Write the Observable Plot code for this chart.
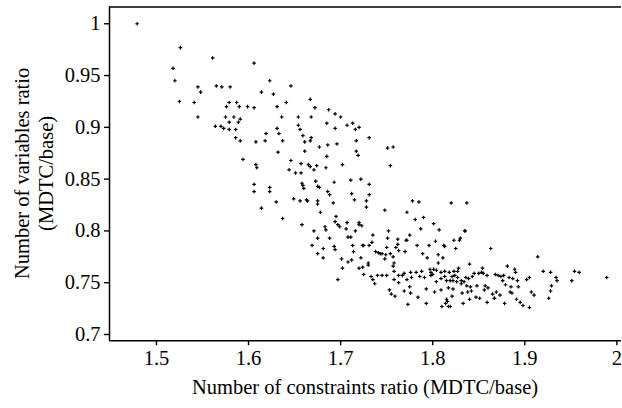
<!DOCTYPE html>
<html>
<head>
<meta charset="utf-8">
<script src="https://cdn.jsdelivr.net/npm/d3@7"></script>
<script src="https://cdn.jsdelivr.net/npm/@observablehq/plot@0.6"></script>
<style>
  html, body { margin: 0; padding: 0; background: #fff; }
  #chart { width: 622px; height: 408px; }
</style>
</head>
<body>
<div id="chart"></div>
<script>
// Constraints ratio (x) and variables ratio (y)
const constraintsRatio = [
1.479,1.526,1.518,1.520,1.525,1.561,1.606,1.545,1.548,1.541,1.545,1.565,1.571,1.580,1.623,1.646,1.614,1.627,
1.579,1.576,1.587,1.590,1.599,1.606,1.641,1.631,1.667,1.672,1.687,1.694,1.700,1.636,1.654,1.668,1.575,1.584,
1.564,1.570,1.573,1.579,1.586,1.589,1.591,1.586,1.591,1.594,1.579,1.619,1.631,1.633,1.637,1.618,1.608,1.654,
1.656,1.659,1.685,1.694,1.707,1.713,1.716,1.720,1.731,1.668,1.667,1.661,1.686,1.677,1.696,1.717,1.717,1.719,
1.751,1.757,1.754,1.632,1.661,1.685,1.646,1.644,1.651,1.657,1.657,1.665,1.667,1.671,1.674,1.684,1.702,1.608,
1.609,1.606,1.606,1.623,1.623,1.614,1.630,1.637,1.649,1.656,1.658,1.659,1.660,1.663,1.664,1.673,1.675,1.677,
1.675,1.675,1.678,1.686,1.688,1.692,1.693,1.711,1.712,1.715,1.722,1.731,1.731,1.728,1.728,1.748,1.658,1.671,
1.675,1.683,1.684,1.688,1.669,1.675,1.681,1.681,1.694,1.695,1.697,1.699,1.693,1.694,1.697,1.707,1.706,1.708,
1.711,1.713,1.714,1.701,1.702,1.708,1.712,1.720,1.720,1.723,1.716,1.722,1.720,1.724,1.725,1.724,1.725,1.731,
1.730,1.730,1.735,1.734,1.738,1.733,1.735,1.737,1.741,1.743,1.740,1.745,1.745,1.748,1.749,1.751,1.752,1.750,
1.750,1.753,1.755,1.759,1.754,1.757,1.760,1.762,1.762,1.763,1.758,1.757,1.758,1.758,1.763,1.763,1.767,1.769,
1.770,1.771,1.772,1.772,1.775,1.769,1.773,1.772,1.775,1.776,1.776,1.777,1.778,1.781,1.783,1.782,1.784,1.785,
1.787,1.788,1.786,1.789,1.790,1.791,1.793,1.793,1.794,1.796,1.797,1.798,1.798,1.800,1.801,1.801,1.803,1.802,
1.804,1.804,1.806,1.807,1.806,1.809,1.809,1.809,1.810,1.811,1.812,1.813,1.813,1.813,1.815,1.815,1.814,1.816,
1.817,1.819,1.817,1.818,1.819,1.820,1.821,1.822,1.821,1.822,1.823,1.823,1.825,1.824,1.826,1.827,1.827,1.828,
1.829,1.830,1.831,1.831,1.832,1.833,1.834,1.835,1.835,1.837,1.836,1.837,1.838,1.839,1.840,1.840,1.841,1.842,
1.843,1.845,1.847,1.848,1.850,1.851,1.853,1.854,1.855,1.856,1.857,1.859,1.859,1.860,1.863,1.865,1.867,1.868,
1.867,1.869,1.871,1.873,1.874,1.876,1.877,1.878,1.879,1.881,1.883,1.884,1.885,1.886,1.887,1.889,1.890,1.891,
1.892,1.893,1.895,1.898,1.902,1.905,1.905,1.907,1.910,1.914,1.920,1.926,1.928,1.929,1.928,1.934,1.935,1.951,
1.954,1.959,1.989
];
const variablesRatio = [
1.000,0.977,0.957,0.945,0.925,0.967,0.962,0.939,0.934,0.924,0.910,0.940,0.939,0.939,0.945,0.940,0.934,0.932,
0.924,0.920,0.924,0.920,0.920,0.919,0.924,0.920,0.927,0.919,0.917,0.913,0.910,0.910,0.910,0.910,0.910,0.910,
0.901,0.901,0.899,0.905,0.898,0.905,0.908,0.890,0.887,0.869,0.898,0.894,0.899,0.894,0.887,0.887,0.886,0.902,
0.898,0.892,0.904,0.899,0.902,0.904,0.898,0.900,0.890,0.890,0.887,0.886,0.883,0.881,0.884,0.887,0.877,0.873,
0.880,0.881,0.863,0.876,0.877,0.872,0.868,0.859,0.856,0.856,0.865,0.864,0.862,0.859,0.863,0.861,0.864,0.864,
0.861,0.838,0.845,0.842,0.838,0.822,0.828,0.812,0.831,0.829,0.846,0.844,0.841,0.830,0.829,0.848,0.843,0.842,
0.829,0.826,0.818,0.838,0.835,0.827,0.847,0.849,0.836,0.830,0.850,0.845,0.835,0.829,0.823,0.820,0.806,0.800,
0.793,0.804,0.801,0.793,0.786,0.778,0.774,0.783,0.809,0.814,0.806,0.804,0.785,0.782,0.753,0.808,0.802,0.794,
0.794,0.786,0.780,0.773,0.764,0.770,0.772,0.808,0.806,0.805,0.800,0.774,0.764,0.765,0.758,0.786,0.786,0.786,
0.769,0.767,0.796,0.789,0.780,0.756,0.753,0.749,0.779,0.778,0.757,0.757,0.778,0.773,0.777,0.793,0.800,0.784,
0.757,0.743,0.739,0.737,0.778,0.775,0.784,0.787,0.792,0.781,0.769,0.766,0.761,0.753,0.757,0.750,0.757,0.759,
0.780,0.791,0.791,0.818,0.796,0.742,0.729,0.753,0.746,0.740,0.760,0.755,0.829,0.811,0.786,0.760,0.736,0.828,
0.802,0.761,0.756,0.778,0.813,0.755,0.744,0.730,0.774,0.786,0.763,0.760,0.757,0.758,0.763,0.807,0.790,0.741,
0.762,0.751,0.777,0.801,0.769,0.760,0.754,0.743,0.727,0.774,0.786,0.785,0.761,0.756,0.752,0.734,0.730,0.732,
0.727,0.727,0.745,0.760,0.752,0.827,0.756,0.744,0.737,0.752,0.761,0.791,0.783,0.757,0.751,0.755,0.761,0.764,
0.791,0.793,0.752,0.749,0.740,0.730,0.751,0.800,0.800,0.827,0.755,0.747,0.741,0.754,0.768,0.734,0.746,0.742,
0.756,0.759,0.736,0.747,0.759,0.735,0.760,0.764,0.759,0.743,0.747,0.757,0.731,0.745,0.783,0.739,0.735,0.758,
0.735,0.741,0.757,0.738,0.756,0.752,0.757,0.730,0.748,0.766,0.755,0.741,0.746,0.740,0.754,0.763,0.760,0.734,
0.752,0.746,0.731,0.728,0.753,0.755,0.726,0.741,0.738,0.775,0.761,0.735,0.742,0.747,0.760,0.755,0.752,0.752,
0.761,0.760,0.755
];
const xTicks = [1.5, 1.6, 1.7, 1.8, 1.9, 2];
const yTicks = [0.7, 0.75, 0.8, 0.85, 0.9, 0.95, 1];
const xTitle = "Number of constraints ratio (MDTC/base)";
const yTitleLines = ["Number of variables ratio", "(MDTC/base)"];

const points = constraintsRatio.map((x, i) => ({x, y: variablesRatio[i]}));

const W = 622, H = 408;
const mL = 109, mR = 1, mT = 6.5, mB = 67.7;
const FS = "20.5px";

const chart = Plot.plot({
  width: W,
  height: H,
  marginLeft: mL,
  marginRight: mR,
  marginTop: mT,
  marginBottom: mB,
  style: {fontFamily: "'Liberation Serif', serif", fontSize: FS, color: "#000", background: "#fff"},
  x: {domain: [1.449, 2.005], label: null},
  y: {domain: [0.6939, 1.0162], label: null},
  marks: [
    Plot.axisX({ticks: xTicks, tickFormat: d => String(d), tickSize: 5, tickPadding: 5, strokeWidth: 1.4, label: null}),
    Plot.axisY({ticks: yTicks, tickFormat: d => String(d), tickSize: 5, tickPadding: 4, strokeWidth: 1.4, label: null}),
    Plot.ruleX([1.449], {stroke: "#000", strokeWidth: 1.5}),
    Plot.ruleY([0.6939], {stroke: "#000", strokeWidth: 1.5}),
    Plot.ruleY([1.0162], {stroke: "#000", strokeWidth: 1.5}),
    Plot.dot(points, {x: "x", y: "y", symbol: "cross", r: 1.5, fill: "#000", stroke: "none"})
  ]
});

const svg = d3.select(chart);
svg.append("text")
  .attr("x", mL + (W - mL - mR) / 2)
  .attr("y", 394)
  .attr("text-anchor", "middle")
  .attr("fill", "#000")
  .style("font-size", FS)
  .text(xTitle);
const cy = mT + (H - mT - mB) / 2;
yTitleLines.forEach((t, i) => {
  svg.append("text")
    .attr("transform", `translate(${29 + i * 24},${cy}) rotate(-90)`)
    .attr("text-anchor", "middle")
    .attr("fill", "#000")
    .style("font-size", FS)
    .text(t);
});

document.getElementById("chart").appendChild(chart);
</script>
</body>
</html>
